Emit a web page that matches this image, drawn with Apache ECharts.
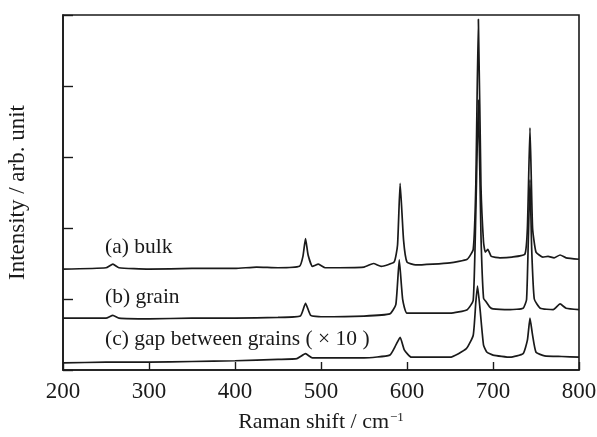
<!DOCTYPE html>
<html>
<head>
<meta charset="utf-8">
<script src="https://cdn.jsdelivr.net/npm/echarts@6/dist/echarts.min.js"></script>
<style>
  html, body { margin: 0; padding: 0; background: #fff; }
  #chart { width: 597px; height: 437px; }
</style>
</head>
<body>
<div id="chart"></div>
<script>
// Raman spectra, values (x: cm-1, y: arb. unit with offsets)
const bulkData = [
  [200, 1.42], [250, 1.44], [258, 1.49], [265, 1.44], [300, 1.42], [350, 1.43],
  [400, 1.43], [425, 1.45], [450, 1.44], [475, 1.46], [479, 1.6], [482, 1.85],
  [485, 1.62], [490, 1.46], [497, 1.49], [505, 1.44], [550, 1.45], [561, 1.5],
  [570, 1.46], [585, 1.52], [589, 1.76], [592, 2.63], [596, 1.83], [600, 1.52],
  [610, 1.48], [650, 1.51], [670, 1.56], [677, 1.7], [680, 2.6], [683, 4.94],
  [686, 2.6], [689, 1.8], [691, 1.66], [694, 1.7], [698, 1.6], [708, 1.58],
  [722, 1.59], [737, 1.63], [740, 2.0], [743, 3.41], [746, 2.0], [750, 1.66],
  [758, 1.59], [764, 1.6], [771, 1.58], [778, 1.62], [785, 1.58], [800, 1.56]
];
const grainData = [
  [200, 0.73], [250, 0.73], [258, 0.77], [265, 0.73], [300, 0.72], [350, 0.73],
  [400, 0.73], [450, 0.74], [476, 0.76], [482, 0.94], [488, 0.77], [500, 0.75],
  [550, 0.76], [580, 0.79], [587, 0.92], [591, 1.55], [595, 0.99], [600, 0.8],
  [650, 0.8], [670, 0.85], [677, 0.98], [680, 2.2], [683, 3.8], [686, 1.9],
  [689, 1.01], [692, 0.96], [696, 0.89], [700, 0.86], [720, 0.85], [735, 0.87],
  [739, 0.99], [741, 1.8], [743, 2.68], [745, 1.7], [748, 1.0], [755, 0.87],
  [770, 0.85], [778, 0.93], [785, 0.87], [800, 0.85]
];
const gapData = [
  [200, 0.10], [250, 0.11], [300, 0.11], [350, 0.12], [400, 0.13], [450, 0.15],
  [472, 0.16], [482, 0.23], [490, 0.17], [550, 0.17], [580, 0.21], [587, 0.35],
  [592, 0.46], [597, 0.28], [605, 0.18], [650, 0.18], [669, 0.3], [677, 0.49],
  [680, 0.95], [682, 1.18], [685, 0.85], [689, 0.35], [693, 0.25], [700, 0.21],
  [720, 0.18], [735, 0.23], [740, 0.42], [743, 0.73], [746, 0.49], [750, 0.25],
  [760, 0.2], [780, 0.19], [800, 0.18]
];
const seriesLabels = ['(a) bulk', '(b) grain', '(c) gap between grains ( \u00d7 10 )'];
const labelY = [248, 298, 340];

const serif = 'Liberation Serif, DejaVu Serif, serif';
const ink = '#1a1a1a';

const chart = echarts.init(document.getElementById('chart'));

const lineSeries = [bulkData, grainData, gapData].map((d) => ({
  type: 'line',
  data: d,
  showSymbol: false,
  smooth: 0.15,
  lineStyle: { color: ink, width: 1.7 },
  silent: true,
  animation: false
}));

chart.setOption({
  animation: false,
  grid: {
    left: 63,
    top: 15,
    width: 516,
    height: 355,
    outerBoundsMode: 'none',
    containLabel: false,
    show: true,
    borderColor: ink,
    borderWidth: 1.6
  },
  xAxis: {
    type: 'value',
    min: 200,
    max: 800,
    interval: 100,
    name: '{n|Raman shift / cm}{s|\u22121}',
    nameLocation: 'middle',
    nameGap: 41,
    nameTextStyle: {
      rich: {
        n: { fontFamily: serif, fontSize: 22, color: ink },
        s: { fontFamily: serif, fontSize: 13, color: ink, verticalAlign: 'top', padding: [0, 0, 10, 1] }
      }
    },
    axisLine: { show: true, onZero: false, lineStyle: { color: ink, width: 1.6 } },
    axisTick: { show: true, inside: true, length: 8, lineStyle: { color: ink, width: 1.4 } },
    axisLabel: { fontFamily: serif, fontSize: 23, color: ink, margin: 10 },
    splitLine: { show: false }
  },
  yAxis: {
    type: 'value',
    min: 0,
    max: 5,
    interval: 1,
    name: 'Intensity / arb. unit',
    nameLocation: 'middle',
    nameGap: 34,
    nameTextStyle: { fontFamily: serif, fontSize: 23, color: ink },
    axisLine: { show: true, lineStyle: { color: ink, width: 1.6 } },
    axisTick: { show: true, inside: true, length: 10, lineStyle: { color: ink, width: 1.4 } },
    axisLabel: { show: false },
    splitLine: { show: false }
  },
  graphic: seriesLabels.map((t, i) => ({
    type: 'text',
    left: 105,
    top: labelY[i] - 12,
    style: { text: t, fontFamily: serif, fontSize: 21.5, fill: ink }
  })),
  series: lineSeries
});
</script>
</body>
</html>
